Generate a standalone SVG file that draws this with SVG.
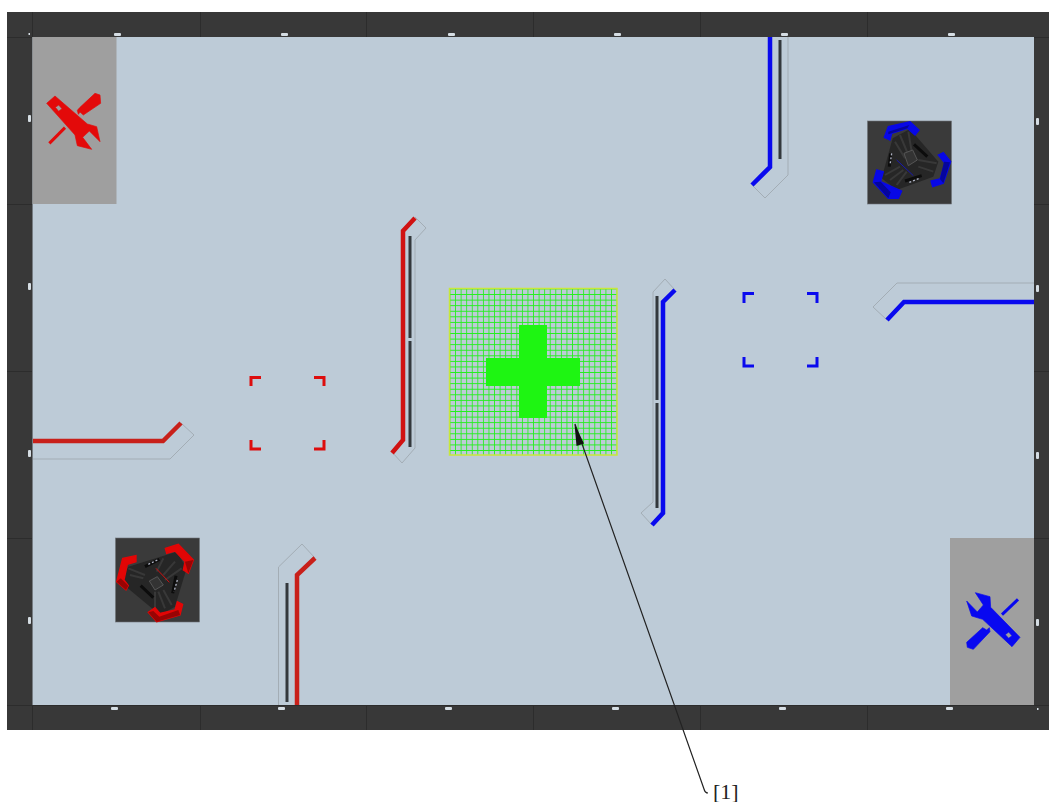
<svg xmlns="http://www.w3.org/2000/svg" width="1049" height="802" viewBox="0 0 1049 802">
<style>
.seam{stroke:#2c2c2c;stroke-width:1;fill:none}
.tick{fill:#d5dde3}
.out{fill:none;stroke:#a3adb5;stroke-width:1}
.bar{fill:none;stroke:#33383c;stroke-width:3}
.r{fill:none;stroke:#c8201a;stroke-width:4.500;stroke-linejoin:miter}
.b{fill:none;stroke:#0a0aee;stroke-width:4.500;stroke-linejoin:miter}
.brR{fill:none;stroke:#dd0d0d;stroke-width:3}
.brB{fill:none;stroke:#0a0aee;stroke-width:3}
.chassis{fill:#262626}
.spoke{stroke:#383838;stroke-width:6;fill:none}
.slot{stroke:#0c0c0c;stroke-width:9;fill:none}
.slotw{stroke:#b0b4c4;stroke-width:4;stroke-dasharray:6 6;fill:none}
</style>
<defs>
<pattern id="gp" x="449.500" y="288.500" width="5.570" height="5.570" patternUnits="userSpaceOnUse">
<path d="M0 0H5.570M0 0V5.570" stroke="#22f01c" stroke-width="1.700" fill="none"/>
</pattern>
</defs>
<rect width="1049" height="802" fill="#fff"/>
<g id="frame">
<rect x="7" y="12" width="1042" height="718" fill="#383838"/>
<path class="seam" d="M32.500 12V730M200.500 12V37M366.500 12V37M533.500 12V37M700.500 12V37M867.500 12V37M200.500 705V730M366.500 705V730M533.500 705V730M700.500 705V730M867.500 705V730M7 37.500H32M7 204.500H32M7 371.500H32M7 538.500H32M7 705.500H1049M1034 204.500H1049M1034 371.500H1049M1034 538.500H1049M1034 37.500H1049"/>
<rect x="32.500" y="37" width="1001.500" height="668" fill="#bdcbd7"/>
<g class="tick">
<rect x="114" y="33" width="7" height="3" rx="1"/><rect x="281" y="33" width="7" height="3" rx="1"/><rect x="448" y="33" width="7" height="3" rx="1"/><rect x="614" y="33" width="7" height="3" rx="1"/><rect x="781" y="33" width="7" height="3" rx="1"/><rect x="948" y="33" width="7" height="3" rx="1"/>
<rect x="111" y="707" width="7" height="3" rx="1"/><rect x="278" y="707" width="7" height="3" rx="1"/><rect x="445" y="707" width="7" height="3" rx="1"/><rect x="612" y="707" width="7" height="3" rx="1"/><rect x="779" y="707" width="7" height="3" rx="1"/><rect x="946" y="707" width="7" height="3" rx="1"/>
<rect x="28" y="115" width="3" height="7" rx="1"/><rect x="28" y="283" width="3" height="7" rx="1"/><rect x="28" y="450" width="3" height="7" rx="1"/><rect x="28" y="617" width="3" height="7" rx="1"/>
<rect x="1036" y="118" width="3" height="7" rx="1"/><rect x="1036" y="285" width="3" height="7" rx="1"/><rect x="1036" y="452" width="3" height="7" rx="1"/><rect x="1036" y="619" width="3" height="7" rx="1"/>
<rect x="28.500" y="33" width="1.500" height="2"/><rect x="1037" y="708" width="1.500" height="2"/>
</g>
</g>
<g id="repair-red">
<rect x="32.500" y="37" width="84" height="167" fill="#9f9f9f"/>
<g transform="scale(.33333)" fill="#e30a0a" stroke="#e30a0a" stroke-width="2">
<path fill-rule="evenodd" d="M140 310L165 288L262 372L290 380L300 425L268 393L248 412L275 448L232 437L225 405ZM166 322L176 315L186 326L176 334Z"/>
<path d="M232 331L240 322L285 280L300 285L302 310L250 345L240 336L235 343Z"/>
<path d="M148 430L195 383" stroke-width="9" fill="none"/>
</g>
</g>
<g id="repair-blue">
<rect x="950" y="538" width="84" height="167" fill="#9f9f9f"/>
<g transform="translate(940 530) scale(.33333)" fill="#0808f0" stroke="#0808f0" stroke-width="2">
<path fill-rule="evenodd" d="M106 188L150 200L152 232L240 322L216 350L128 268L95 258L80 213L112 246L130 225ZM196 314L206 306L216 317L206 325Z"/>
<path d="M80 337L128 293L140 300L148 293L150 305L100 358L82 352Z"/>
<path d="M186 254L234 208" stroke-width="9" fill="none"/>
</g>
</g>
<g id="robot-blue">
<rect x="867.500" y="121" width="84" height="83" fill="#3a3a3a" stroke="#6f7478" stroke-width=".6"/>
<g transform="translate(850 105) scale(.33333)">
<path class="chassis" d="M128 100L180 72L265 170L250 215L140 255L95 220Z"/>
<path class="spoke" d="M150 90L175 150M175 80L185 140M135 110L165 160M260 175L205 165M250 200L205 185M120 225L160 195M140 240L170 200M105 210L150 185"/>
<path d="M162 145L188 135L202 165L175 182Z" fill="#333" stroke="#555" stroke-width="3"/>
<path class="slot" d="M192 118L232 155M122 145L118 185M165 228L215 212"/>
<path class="slotw" d="M125 145L120 180M178 232L208 220"/>
<path d="M140 165L190 212" stroke="#1717b0" stroke-width="3"/>
<g fill="#0808e6" stroke="#0808e6" stroke-width="4">
<path d="M103 97L115 65L180 50L207 75L195 90L172 70L125 85L120 105Z"/>
<path d="M265 150L280 143L302 170L280 235L248 245L243 228L270 222L285 175Z"/>
<path d="M80 195L100 200L92 230L155 258L145 280L115 280L70 232Z"/>
</g>
<g fill="#05059c">
<path d="M115 88L125 85L172 70L178 60L115 80Z"/>
<path d="M282 170L270 222L280 235L300 172Z"/>
<path d="M72 232L115 280L122 262L92 230Z"/>
</g>
</g>
</g>
<g id="robot-red">
<rect x="115.500" y="538" width="84" height="84" fill="#3a3a3a" stroke="#6f7478" stroke-width=".6"/>
<g transform="translate(100 525) scale(.33333)">
<path class="chassis" d="M85 125L230 80L260 130L225 245L180 270L60 170Z"/>
<path class="spoke" d="M190 100L170 140M225 110L190 150M245 130L195 165M90 150L130 160M85 130L135 150M215 240L190 195M195 250L175 200M165 255L165 200"/>
<path d="M148 168L172 155L190 180L165 195Z" fill="#333" stroke="#555" stroke-width="3"/>
<path class="slot" d="M135 125L178 103M122 182L160 218M228 152L218 205"/>
<path class="slotw" d="M145 118L172 105M232 165L222 200"/>
<path d="M168 130L208 172" stroke="#d01010" stroke-width="3"/>
<g fill="#e20606" stroke="#e20606" stroke-width="4">
<path d="M196 70L235 58L280 105L265 145L250 135L255 110L225 78L200 85Z"/>
<path d="M68 100L108 92L108 110L82 118L72 165L85 182L78 195L50 170Z"/>
<path d="M145 262L165 248L180 265L225 255L232 230L248 238L240 270L170 290Z"/>
</g>
<g fill="#980404">
<path d="M255 110L265 145L280 105Z"/>
<path d="M50 170L78 195L85 182L62 160Z"/>
<path d="M145 262L170 290L240 270L235 255L178 275L160 258Z"/>
</g>
</g>
</g>
<g id="walls">
<path class="out" d="M415 217L426 228L415 240V448L402 463L392 452"/>
<path class="bar" d="M410 236V338M410 341V447"/>
<path class="r" style="stroke:#d01212" d="M415 218L403 231V440L392 453"/>
<path class="out" d="M675 290L665 279L653 292V502L641 513L652 525"/>
<path class="bar" d="M657 296V400M657 403V508"/>
<path class="b" d="M675 290L663 302V513L652 525"/>
<path class="out" d="M278.500 705V567L302 544L315 558"/>
<path class="bar" d="M287 583V702"/>
<path class="r" d="M315 558L297 575V705"/>
<path class="out" d="M788 37V175L765 198L752 185"/>
<path class="bar" d="M780 40V159"/>
<path class="b" d="M770 37V167L752 185"/>
<path class="out" d="M887 320L873 307L897 283H1034"/>
<path class="b" d="M887 320L904 302H1034"/>
<path class="out" d="M181 423L194 435L170 459H33"/>
<path class="r" d="M181 423L163 441H33"/>
</g>
<g id="zone-red" class="brR">
<path d="M251 386V377.500H261M314 377.500H324V386M251 440V449H261M314 449H324V440"/>
</g>
<g id="zone-blue" class="brB">
<path d="M744 303V293.500H754M807 293.500H817V303M744 357V366H754M807 366H817V357"/>
</g>
<g id="buff-zone">
<rect x="449.500" y="288.500" width="167.500" height="166.500" fill="url(#gp)" stroke="#c8e83a" stroke-width="1.500"/>
<path d="M519 325H547V358H580V386H547V418H519V386H486V358H519Z" fill="#1ef512"/>
</g>
<g id="callout">
<path d="M575 424L704 789Q705 793 708 793" fill="none" stroke="#222" stroke-width="1.200"/>
<path d="M574.500 424L584 443.500L576.500 446Z" fill="#111"/>
<text x="713" y="799" font-family="Liberation Serif, serif" font-size="22" fill="#222">[1]</text>
</g>
</svg>
